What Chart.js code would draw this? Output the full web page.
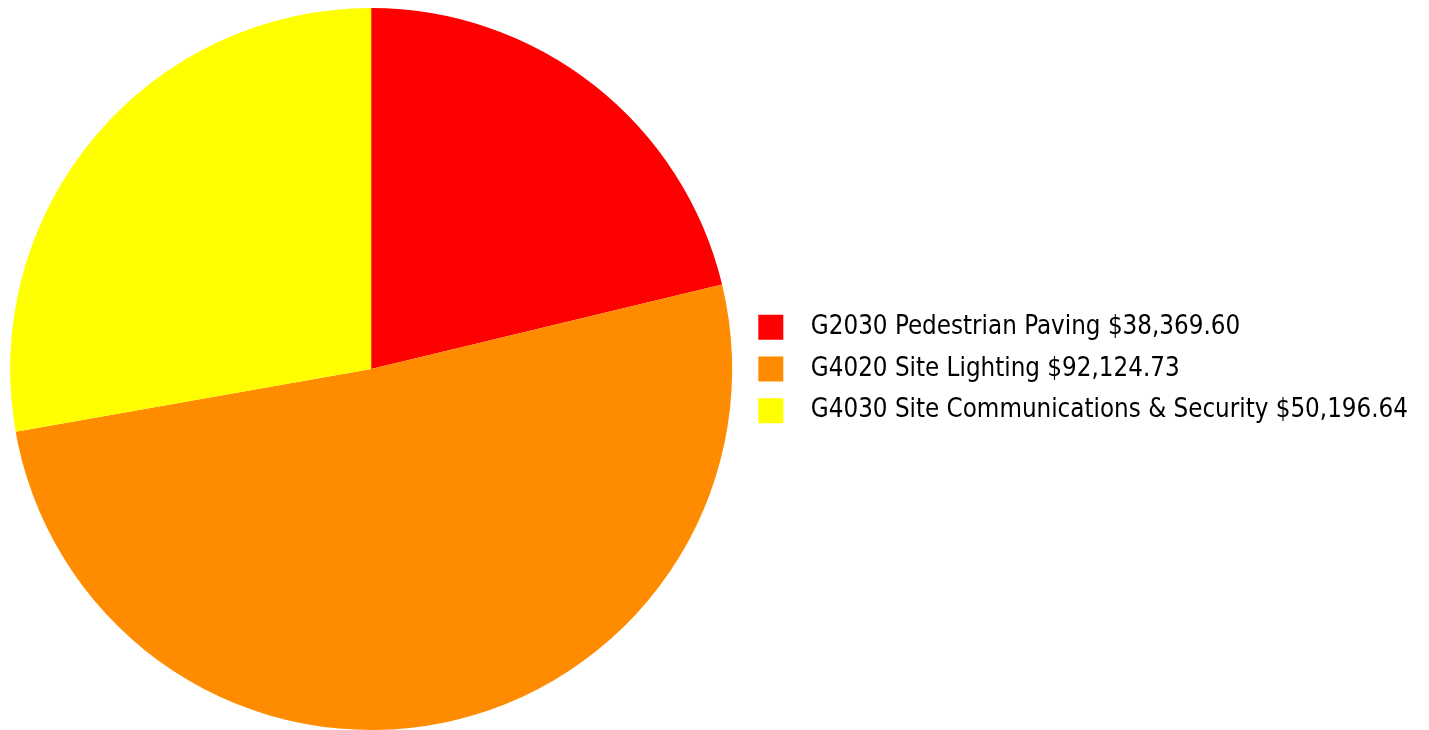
<!DOCTYPE html>
<html>
<head>
<meta charset="utf-8">
<script src="https://cdn.jsdelivr.net/npm/chart.js@4"></script>
<style>
  body { margin: 0; background: #fff; }
</style>
</head>
<body>
<canvas id="costChart" width="1429" height="730"></canvas>
<script>
// Cost breakdown by element
const categories = ['G2030 Pedestrian Paving', 'G4020 Site Lighting', 'G4030 Site Communications & Security'];
const costs = [38369.60, 92124.73, 50196.64];
const sliceColors = ['#ff0000', '#ff8c00', '#ffff00'];

const money = v => '$' + v.toLocaleString('en-US', { minimumFractionDigits: 2, maximumFractionDigits: 2 });

const ctx = document.getElementById('costChart').getContext('2d');
const costChart = new Chart(ctx, {
  type: 'pie',
  data: {
    labels: categories.map((c, i) => `${c} ${money(costs[i])}`),
    datasets: [{
      data: costs,
      backgroundColor: sliceColors,
      borderWidth: 0,
    }]
  },
  options: {
    responsive: false,
    animation: false,
    layout: { padding: { left: 0, top: 8, right: 11, bottom: 0 } },
    plugins: {
      tooltip: { enabled: false },
      legend: {
        position: 'right',
        labels: {
          color: '#000',
          boxWidth: 25,
          boxHeight: 25,
          padding: 16,
          font: { family: 'DejaVu Sans Condensed', size: 25.7 },
          // wider gap between the swatch and the text
          generateLabels: chart => Chart.overrides.pie.plugins.legend.labels.generateLabels(chart)
            .map(item => ({ ...item, text: '  ' + item.text }))
        }
      }
    }
  }
});
</script>
</body>
</html>
